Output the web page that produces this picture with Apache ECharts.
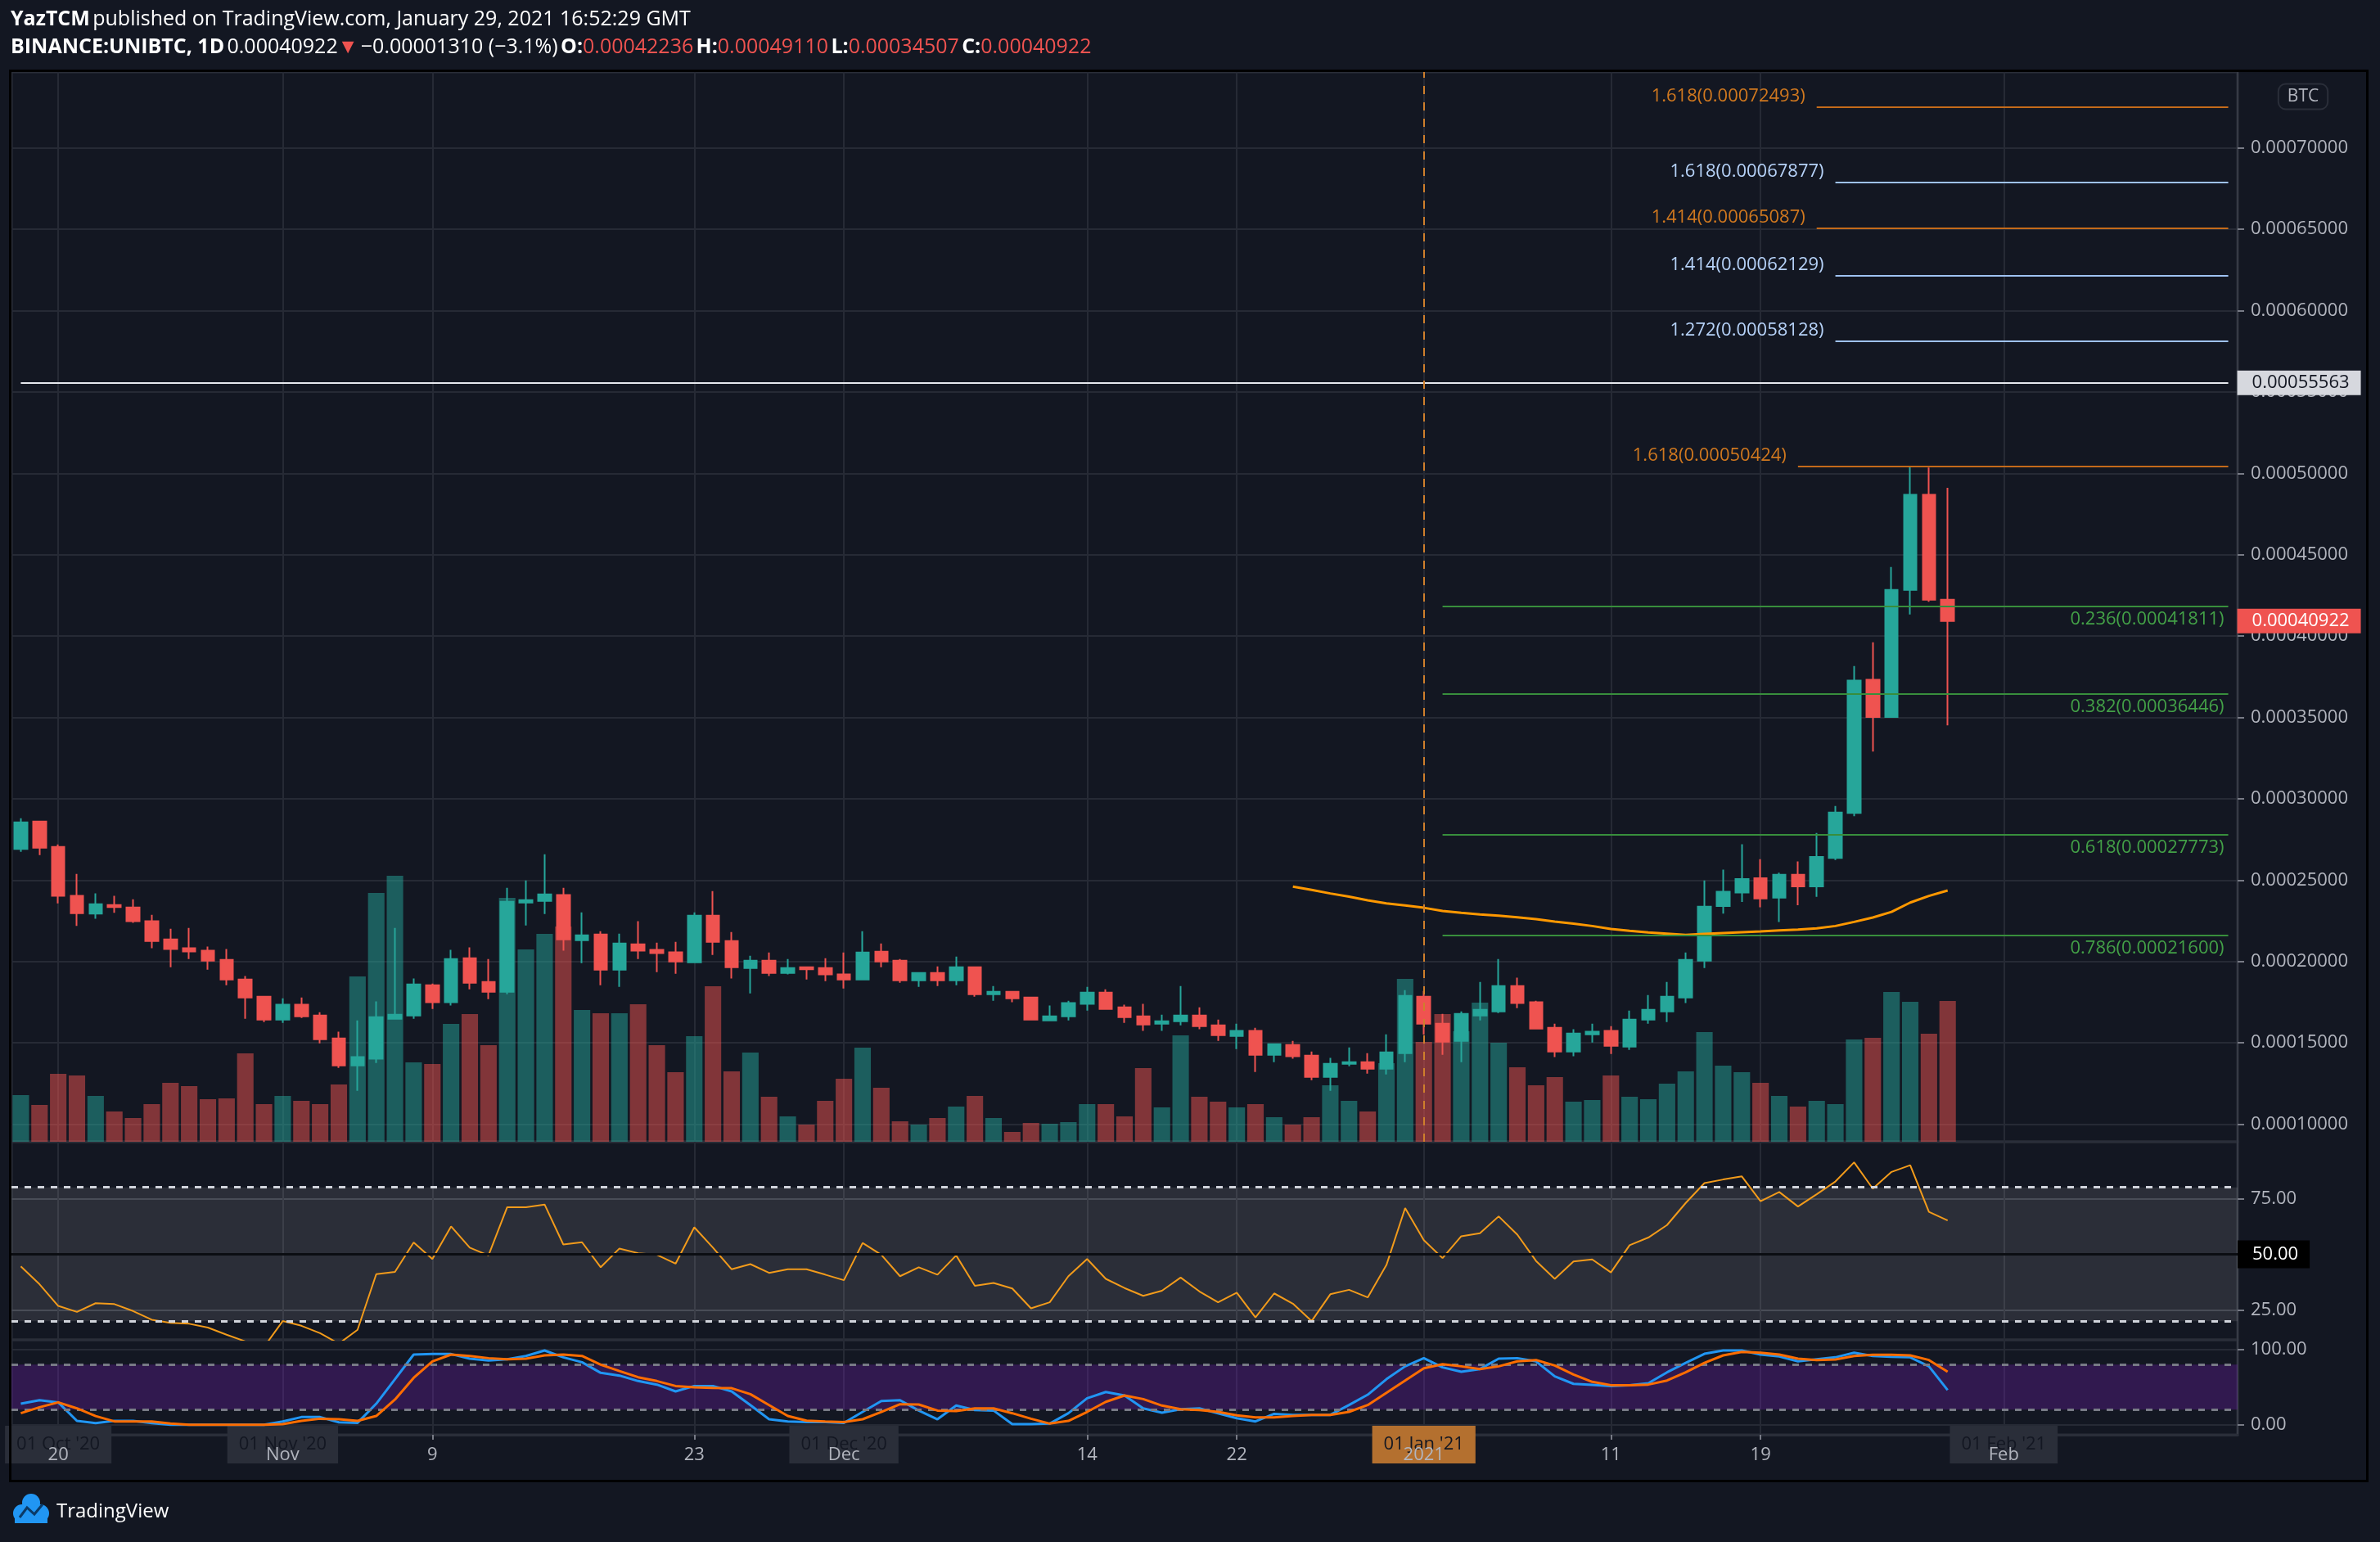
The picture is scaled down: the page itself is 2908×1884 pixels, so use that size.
<!DOCTYPE html>
<html><head><meta charset="utf-8">
<style>html,body{margin:0;padding:0;background:#131722;}#c{width:2908px;height:1884px;}</style>
<script src="https://cdn.jsdelivr.net/npm/echarts@6/dist/echarts.min.js"></script>
</head><body><div id="c"></div>
<script>
const FONT = '"Open Sans", "Noto Sans", sans-serif';

// ---- categories (daily, Oct 18 2020 .. Feb 13 2021) ----
const N_DAYS = 119;
const DATES = [];
for (let i = 0; i < N_DAYS; i++) {
  const d = new Date(Date.UTC(2020, 9, 18 + i));
  DATES.push(d.toISOString().slice(0, 10));
}

// ---- x tick labels ----
const TICK_DATES = ['2020-10-20','2020-11-01','2020-11-09','2020-11-23','2020-12-01','2020-12-14','2020-12-22','2021-01-01','2021-01-11','2021-01-19','2021-02-01'];
const TICK_LABELS = ['20','Nov','9','23','Dec','14','22','2021','11','19','Feb'];
const BOX_DATES = ['2020-10-20','2020-11-01','2020-12-01','2021-01-01','2021-02-01'];
const BOX_LABELS = ["01 Oct '20","01 Nov '20","01 Dec '20","01 Jan '21","01 Feb '21"];
const HIGHLIGHT_BOX = '2021-01-01';

// ---- y tick labels ----
const PRICE_TICKS = [0.0001,0.00015,0.0002,0.00025,0.0003,0.00035,0.0004,0.00045,0.0005,0.00055,0.0006,0.00065,0.0007];
const RSI_TICKS = [25,50,75];
const RSI_LABELS = [25,75];
const STOCH_TICKS = [0,100];

// ---- OHLC (Oct 18 2020 .. Jan 29 2021) ----
const OPEN = [0.0002691,0.000286,0.0002704,0.0002403,0.0002294,0.0002347,0.0002332,0.0002247,0.0002136,0.0002081,0.0002066,0.000201,0.0001889,0.0001784,
0.0001643,0.0001734,0.0001668,0.0001527,0.0001361,0.0001402,0.0001648,0.0001668,0.0001854,0.0001749,0.000202,0.0001874,0.0001814,0.0002362,0.0002372,0.0002408,0.0002131,0.0002166,0.000195,0.0002106,0.0002071,0.0002056,0.0001995,0.0002282,0.0002126,0.000196,0.0002005,0.000193,0.0001965,0.000196,
0.000192,0.0001889,0.000206,0.0002005,0.0001884,0.000193,0.0001884,0.0001965,0.0001799,0.0001814,0.0001779,0.0001638,0.0001663,0.0001739,0.0001809,0.0001718,0.0001663,0.0001618,0.0001633,0.0001668,0.0001608,0.0001542,0.0001573,0.0001427,0.0001487,0.0001422,0.0001291,0.0001371,0.0001381,0.0001341,0.0001437,
0.0001784,0.0001618,0.0001512,0.0001668,0.0001693,0.0001849,0.0001749,0.0001593,0.0001447,0.0001552,0.0001573,0.0001477,0.0001643,0.0001693,0.0001779,0.0002005,0.000234,0.0002423,0.0002512,0.0002392,0.0002533,0.0002461,0.0002636,0.0002913,0.0003731,0.0003503,0.0004283,0.0004868,0.00042236];
const CLOSE = [0.0002855,0.0002699,0.0002404,0.0002297,0.0002352,0.0002334,0.0002247,0.0002126,0.0002076,0.0002061,0.0002005,0.0001889,0.0001779,0.0001643,
0.0001734,0.0001663,0.0001522,0.0001361,0.0001412,0.0001658,0.0001673,0.0001859,0.0001749,0.0002015,0.0001869,0.0001814,0.0002367,0.0002377,0.0002412,0.0002136,0.0002161,0.000195,0.0002111,0.0002066,0.0002051,0.0002,0.0002282,0.0002121,0.0001965,0.0002005,0.000193,0.000196,0.0001952,0.000192,
0.0001889,0.0002055,0.0002,0.0001884,0.000193,0.0001884,0.0001965,0.0001799,0.0001814,0.0001774,0.0001643,0.0001663,0.0001744,0.0001809,0.0001708,0.0001658,0.0001613,0.0001633,0.0001668,0.0001603,0.0001547,0.0001573,0.0001427,0.0001492,0.0001417,0.0001291,0.0001371,0.0001381,0.0001341,0.0001442,0.0001789,
0.0001618,0.0001507,0.0001678,0.0001703,0.0001849,0.0001744,0.0001588,0.0001447,0.0001557,0.0001568,0.0001482,0.0001643,0.0001703,0.0001784,0.000201,0.0002337,0.0002428,0.0002507,0.0002387,0.0002533,0.0002461,0.0002643,0.0002915,0.0003726,0.0003503,0.0004283,0.0004868,0.00042236,0.00040922];
const HIGH = [0.000288,0.0002862,0.0002719,0.0002538,0.0002418,0.0002403,0.0002382,0.0002287,0.0002201,0.0002206,0.0002091,0.0002076,0.000191,0.0001784,
0.0001774,0.0001779,0.0001688,0.0001568,0.0001638,0.0001754,0.0002206,0.0001895,0.0001864,0.0002071,0.0002086,0.0002015,0.0002453,0.0002498,0.0002659,0.0002453,0.0002302,0.0002186,0.0002171,0.0002247,0.0002116,0.0002121,0.0002302,0.0002433,0.0002181,0.0002035,0.0002055,0.0002015,0.0001965,0.000202,
0.0002055,0.0002186,0.000211,0.0002015,0.0001935,0.000197,0.000203,0.000197,0.0001849,0.0001819,0.0001784,0.0001729,0.0001759,0.0001844,0.0001829,0.0001734,0.0001739,0.0001673,0.0001849,0.0001718,0.0001643,0.0001618,0.0001593,0.0001497,0.0001512,0.0001447,0.0001407,0.0001472,0.0001437,0.0001552,0.0001824,
0.0001819,0.0001678,0.0001693,0.0001874,0.0002015,0.00019,0.0001759,0.0001618,0.0001583,0.0001618,0.0001603,0.0001698,0.0001794,0.0001874,0.0002055,0.0002498,0.0002564,0.000272,0.0002628,0.0002546,0.0002615,0.000279,0.0002956,0.0003816,0.0003962,0.0004424,0.0005043,0.0005035,0.0004911];
const LOW = [0.0002674,0.0002654,0.0002357,0.0002218,0.0002263,0.0002299,0.0002238,0.0002082,0.0001965,0.0002015,0.000195,0.0001854,0.0001648,0.0001628,
0.0001623,0.0001653,0.0001497,0.0001346,0.0001205,0.0001376,0.0001643,0.0001648,0.0001708,0.0001729,0.0001829,0.0001769,0.0001799,0.0002221,0.0002292,0.0002066,0.000199,0.0001854,0.0001844,0.0002015,0.0001935,0.0001925,0.000199,0.000204,0.0001895,0.0001804,0.000191,0.000192,0.0001889,0.0001879,
0.0001834,0.0001889,0.0001965,0.0001869,0.0001844,0.0001849,0.0001854,0.0001784,0.0001759,0.0001749,0.0001638,0.0001638,0.0001638,0.0001698,0.0001708,0.0001623,0.0001573,0.0001573,0.0001608,0.0001583,0.0001512,0.0001462,0.0001321,0.0001381,0.0001402,0.0001271,0.0001205,0.0001356,0.0001311,0.0001306,0.0001381,
0.0001551,0.0001427,0.0001381,0.0001638,0.0001683,0.0001713,0.0001588,0.0001412,0.0001417,0.0001502,0.0001432,0.0001457,0.0001618,0.0001628,0.0001744,0.000196,0.0002294,0.0002366,0.0002333,0.0002243,0.0002346,0.0002397,0.0002623,0.0002892,0.000329,0.00035,0.0004132,0.0004211,0.00034507];
const VOLUME = [57,45,83,81,56,37,29,46,72,68,52,53,108,46,
56,50,46,70,202,304,325,97,95,144,156,118,298,235,254,263,161,157,157,168,118,85,129,190,86,109,55,31,21,50,
77,115,66,25,21,29,43,56,29,12,23,22,24,46,46,31,90,42,130,55,49,42,46,30,21,30,69,50,37,96,199,
122,156,135,170,121,91,69,79,49,51,81,55,52,71,86,134,93,85,72,56,43,50,46,125,127,183,171,132,172];

// ---- moving average (from Dec 25 2020) ----
const MA_START = '2020-12-25';
const MA = [0.000246,0.000244,0.0002418,0.0002398,0.0002376,0.0002357,0.0002344,
0.000233,0.000231,0.0002299,0.0002289,0.0002282,0.0002272,0.000226,0.0002245,0.0002232,0.0002218,0.00022,0.0002188,0.0002178,0.0002171,0.0002163,0.000217,0.0002175,0.000218,0.0002185,0.0002191,0.0002196,0.0002203,0.0002218,0.0002243,0.000227,0.0002305,0.0002362,0.0002403,0.0002436];

// ---- RSI ----
const RSI = [44.6,36.6,26.9,24.2,28.1,27.7,24.6,20.7,19.3,18.9,17.2,14.0,11.0,8.5,
20.1,18.0,14.7,10.0,16.2,41.1,42.1,55.3,47.9,62.5,53.0,49.5,71.1,71.1,72.3,54.4,55.4,44.2,52.6,50.5,49.8,45.8,62.1,53.0,43.3,45.6,41.7,43.3,43.3,40.9,
38.4,55.1,49.8,40.2,44.2,40.9,49.5,35.9,37.2,34.7,25.8,28.5,40.2,47.9,39.0,34.9,31.4,33.7,39.6,33.4,28.5,32.8,21.7,32.5,27.9,20.1,32.1,34.1,30.7,45.2,70.7,
56.3,48.3,58.1,59.4,67.0,58.8,47.0,39.0,46.8,47.7,41.9,54.1,57.5,63.1,73.0,81.9,83.5,84.9,73.8,77.9,71.4,76.9,82.6,91.2,79.4,86.9,89.9,69.0,65.2];

// ---- Stoch RSI ----
const STOCH_K = [28.0,32.7,29.8,5.1,2.2,5.1,5.1,2.2,0,0,0,0,0,0,
4.4,10.2,10.2,3.3,2.5,28.0,60.7,93.5,94.2,94.2,88.0,85.5,87.3,91.6,98.9,89.8,83.3,69.1,65.5,58.2,53.5,44.4,51.6,51.6,44.4,26.2,7.3,4.4,3.6,3.6,
2.5,17.1,31.6,32.7,18.9,7.3,25.5,19.6,18.9,0.7,0.7,1.5,15.3,35.3,43.6,38.9,21.8,16.0,20.7,21.8,15.3,8.7,4.4,14.5,13.1,13.1,13.1,26.2,40.0,60.7,77.8,
88.7,76.4,70.5,74.2,88.0,88.7,84.4,64.4,54.5,53.1,51.6,52.7,55.3,69.8,82.5,94.5,98.9,98.9,93.5,90.9,84.4,87.3,89.8,96.0,91.6,90.5,89.8,77.8,46.2];
const STOCH_D = [15.3,23.3,29.8,21.8,11.6,4.4,4.4,4.4,1.5,0,0,0,0,0,
0.7,5.1,8.0,7.3,5.1,11.6,33.5,62.5,84.4,93.5,91.6,88.7,87.3,88.0,92.4,93.5,91.6,80.0,71.6,63.3,58.2,51.6,49.8,49.1,48.7,40.7,26.2,11.6,5.5,4.4,
3.6,7.3,17.1,27.3,26.9,18.9,18.2,21.8,21.8,15.3,8.0,1.5,5.1,17.1,30.5,38.9,34.2,25.5,20.7,19.6,17.1,12.4,9.8,9.8,11.6,13.1,13.1,17.1,26.2,42.5,58.9,
75.3,80.7,77.8,74.2,77.8,84.4,86.2,78.9,66.9,57.1,52.7,52.7,53.5,58.9,69.8,82.5,92.4,97.1,96.0,93.5,88.0,86.2,86.9,91.6,93.1,93.1,92.4,86.2,70.5];

// ---- drawings ----
const FIB_EXT = [
  {ratio:'1.618', price:0.00072493, from:'2021-01-22', kind:'orange'},
  {ratio:'1.618', price:0.00067877, from:'2021-01-23', kind:'blue'},
  {ratio:'1.414', price:0.00065087, from:'2021-01-22', kind:'orange'},
  {ratio:'1.414', price:0.00062129, from:'2021-01-23', kind:'blue'},
  {ratio:'1.272', price:0.00058128, from:'2021-01-23', kind:'blue'},
  {ratio:'1.618', price:0.00050424, from:'2021-01-21', kind:'orange'}
];
const FIB_RET = [
  {ratio:'0.236', price:0.00041811},
  {ratio:'0.382', price:0.00036446},
  {ratio:'0.618', price:0.00027773},
  {ratio:'0.786', price:0.00021600}
];
const FIB_RET_FROM = '2021-01-02';
const RESISTANCE = 0.00055563;
const LAST_PRICE = 0.00040922;
const YEAR_LINE = '2021-01-01';

// ---- colours ----
const UP = '#26a69a', DOWN = '#ef5350';
const ORANGE_LINE = '#c46a1a', ORANGE_TXT = '#d0781f';
const BLUE_LINE = '#9fc2f2', BLUE_TXT = '#b6d2f8';
const GREEN_LINE = '#388e3c', GREEN_TXT = '#43a047';
const AXIS_TXT = '#b2b5be';
const GRID_C = '#262a35';

const tickSet = new Set(TICK_DATES);
const tickMap = {}; TICK_DATES.forEach((d, i) => tickMap[d] = TICK_LABELS[i]);
const boxMap = {}; BOX_DATES.forEach((d, i) => boxMap[d] = BOX_LABELS[i]);
const tickInterval = (i, v) => tickSet.has(v);

const candleData = OPEN.map((o, i) => [o, CLOSE[i], LOW[i], HIGH[i]]);
const volData = VOLUME.map((v, i) => ({value: v, itemStyle: {color: CLOSE[i] >= OPEN[i] ? 'rgba(38,166,154,0.5)' : 'rgba(239,83,80,0.5)'}}));
const maOffset = DATES.indexOf(MA_START);
const maData = DATES.map((d, i) => (i >= maOffset && i - maOffset < MA.length) ? MA[i - maOffset] : null);
const firstCat = DATES[0];
const lastCat = DATES[DATES.length - 1];
const lastDataCat = DATES[OPEN.length - 1];

const marks = [];
FIB_EXT.forEach(f => {
  const lc = f.kind === 'orange' ? ORANGE_LINE : BLUE_LINE;
  const tc = f.kind === 'orange' ? ORANGE_TXT : BLUE_TXT;
  marks.push([
    {coord: [f.from, f.price], lineStyle: {color: lc, width: 2, type: 'solid'},
     label: {show: true, position: 'start', distance: 14, formatter: f.ratio + '(' + f.price.toFixed(8) + ')', color: tc, fontSize: 22, fontFamily: FONT, verticalAlign: 'bottom', padding: [0, 0, 2, 0]}},
    {coord: [lastCat, f.price]}
  ]);
});
FIB_RET.forEach(f => {
  marks.push([
    {coord: [FIB_RET_FROM, f.price], lineStyle: {color: GREEN_LINE, width: 2, type: 'solid'},
     label: {show: true, position: 'insideEndBottom', distance: 5, formatter: f.ratio + '(' + f.price.toFixed(8) + ')', color: GREEN_TXT, fontSize: 22, fontFamily: FONT}},
    {coord: [lastCat, f.price]}
  ]);
});
// horizontal resistance across whole pane with axis tag
marks.push([
  {coord: [firstCat, RESISTANCE], lineStyle: {color: '#e6e8ee', width: 2, type: 'solid'},
   label: {show: true, position: 'end', distance: 11, formatter: RESISTANCE.toFixed(8), backgroundColor: '#d6d8de', color: '#131722', padding: [4, 14, 4, 18], fontSize: 22, fontFamily: FONT}},
  {coord: [lastCat, RESISTANCE]}
]);
// last price tag (short invisible segment to the right of the last candle)
marks.push([
  {coord: [lastDataCat, LAST_PRICE], lineStyle: {color: 'rgba(0,0,0,0)', width: 1, type: 'solid'},
   label: {show: true, position: 'end', distance: 11, formatter: LAST_PRICE.toFixed(8), backgroundColor: '#ef5350', color: '#ffffff', padding: [4, 14, 4, 18], fontSize: 22, fontFamily: FONT}},
  {coord: [lastCat, LAST_PRICE]}
]);
marks.push({xAxis: YEAR_LINE, lineStyle: {color: '#cf7f2c', width: 2, type: [10, 10]}, label: {show: false}});

function baseX(gridIndex) {
  return {
    type: 'category', gridIndex, data: DATES, boundaryGap: true,
    axisLine: {show: false}, axisTick: {show: false}, axisLabel: {show: false},
    splitLine: {show: true, alignWithLabel: true, interval: tickInterval, lineStyle: {color: GRID_C, width: 2}}
  };
}
const xAxes = [baseX(0), baseX(1), baseX(2)];
xAxes[2].position = 'bottom';
xAxes[2].axisLabel = {
  show: true, interval: (i, v) => v in boxMap, margin: 1,
  formatter: v => '{' + (v === HIGHLIGHT_BOX ? 'j' : 'b') + '|' + boxMap[v] + '}',
  rich: {
    b: {backgroundColor: '#2a2e39', color: '#131722', fontSize: 22, fontFamily: FONT, lineHeight: 22, padding: [12, 14]},
    j: {backgroundColor: '#b4702f', color: '#131722', fontSize: 22, fontFamily: FONT, lineHeight: 22, padding: [12, 14]}
  }
};
xAxes.push({
  type: 'category', gridIndex: 2, data: DATES, boundaryGap: true, position: 'bottom',
  axisLine: {show: true, lineStyle: {color: '#2a2e39', width: 3}},
  axisTick: {show: true, alignWithLabel: true, interval: tickInterval, length: 6, lineStyle: {color: '#787b86', width: 2}},
  axisLabel: {show: true, interval: tickInterval, formatter: v => tickMap[v], color: AXIS_TXT, fontSize: 22, fontFamily: FONT, margin: 14},
  splitLine: {show: false}
});

function rightAxis(gridIndex, min, max, ticks, labels, fmt) {
  return {
    type: 'value', gridIndex, position: 'right', min, max, scale: true,
    axisLine: {show: true, lineStyle: {color: '#363a45', width: 2}},
    axisTick: {show: true, customValues: ticks, length: 8, lineStyle: {color: '#787b86', width: 2}},
    axisLabel: {show: true, customValues: labels, formatter: fmt, color: AXIS_TXT, fontSize: 22, fontFamily: FONT, margin: 16},
    splitLine: {show: true, lineStyle: {color: GRID_C, width: 2}}
  };
}
const yAxes = [
  rightAxis(0, 0.0000892, 0.0007466, PRICE_TICKS, PRICE_TICKS, v => v.toFixed(8)),
  {type: 'value', gridIndex: 0, min: 0, max: Math.max(...VOLUME) * 4.02, show: false, splitLine: {show: false}},
  rightAxis(1, 11.7, 100.4, RSI_TICKS, RSI_LABELS, v => v.toFixed(2)),
  rightAxis(2, -13.4, 113.1, STOCH_TICKS, STOCH_TICKS, v => v.toFixed(2))
];
yAxes[2].splitLine.lineStyle.color = '#353945';

const gridBase = {left: 14, right: 174, show: true, borderColor: '#2a2e39', borderWidth: 3, backgroundColor: 'transparent'};
const option = {
  backgroundColor: '#131722',
  animation: false,
  textStyle: {fontFamily: FONT},
  grid: [
    Object.assign({top: 88, height: 1307}, gridBase),
    Object.assign({top: 1395, height: 242}, gridBase),
    Object.assign({top: 1637, height: 116}, gridBase)
  ],
  xAxis: xAxes,
  yAxis: yAxes,
  series: [
    {type: 'bar', name: 'Volume', xAxisIndex: 0, yAxisIndex: 1, data: volData, barWidth: '88%', z: 1, silent: true},
    {type: 'candlestick', name: 'UNIBTC', xAxisIndex: 0, yAxisIndex: 0, data: candleData, barWidth: '70%', z: 3,
     itemStyle: {color: UP, color0: DOWN, borderColor: UP, borderColor0: DOWN, borderWidth: 2},
     markLine: {silent: true, symbol: ['none', 'none'], animation: false, z: 6, data: marks}},
    {type: 'line', name: 'MA', xAxisIndex: 0, yAxisIndex: 0, data: maData, symbol: 'none', z: 4,
     lineStyle: {color: '#ff9800', width: 3}, itemStyle: {color: '#ff9800'}},
    {type: 'line', name: 'RSI', xAxisIndex: 1, yAxisIndex: 2, data: RSI, symbol: 'none', z: 4,
     lineStyle: {color: '#f29b1b', width: 2}, itemStyle: {color: '#f29b1b'},
     markArea: {silent: true, itemStyle: {color: 'rgba(255,255,255,0.10)'}, data: [[{yAxis: 20}, {yAxis: 80}]]},
     markLine: {silent: true, symbol: ['none', 'none'], animation: false, data: [
       {yAxis: 80, lineStyle: {color: '#d1d4dc', width: 3, type: [8, 8]}, label: {show: false}},
       {yAxis: 20, lineStyle: {color: '#d1d4dc', width: 3, type: [8, 8]}, label: {show: false}},
       {yAxis: 50, lineStyle: {color: '#0b0d12', width: 3, type: 'solid'},
        label: {show: true, position: 'end', distance: 0, formatter: '50.00', backgroundColor: '#000000', color: '#ffffff', padding: [6, 14, 6, 18], fontSize: 22, fontFamily: FONT}}
     ]}},
    {type: 'line', name: '%K', xAxisIndex: 2, yAxisIndex: 3, data: STOCH_K, symbol: 'none', z: 4,
     lineStyle: {color: '#2196f3', width: 3}, itemStyle: {color: '#2196f3'},
     markArea: {silent: true, itemStyle: {color: 'rgba(120,30,185,0.30)'}, data: [[{yAxis: 20}, {yAxis: 80}]]},
     markLine: {silent: true, symbol: ['none', 'none'], animation: false, data: [
       {yAxis: 80, lineStyle: {color: '#787b86', width: 3, type: [8, 8]}, label: {show: false}},
       {yAxis: 20, lineStyle: {color: '#787b86', width: 3, type: [8, 8]}, label: {show: false}}
     ]}},
    {type: 'line', name: '%D', xAxisIndex: 2, yAxisIndex: 3, data: STOCH_D, symbol: 'none', z: 5,
     lineStyle: {color: '#ff6d00', width: 3}, itemStyle: {color: '#ff6d00'}}
  ],
  graphic: [
    {type: 'text', x: 13, y: 24, z: 10, style: {
      text: '{b|YazTCM} {n|published on TradingView.com, January 29, 2021 16:52:29 GMT}',
      verticalAlign: 'middle',
      rich: {b: {fontWeight: 'bold', fontSize: 25, fontFamily: FONT, fill: '#ffffff'}, n: {fontSize: 25, fontFamily: FONT, fill: '#ffffff'}}}},
    {type: 'text', x: 13, y: 58, z: 10, style: {
      text: '{b|BINANCE:UNIBTC, 1D} {n|0.00040922}{r|▼} {n|−0.00001310 (−3.1%)} {b|O:}{r|0.00042236} {b|H:}{r|0.00049110} {b|L:}{r|0.00034507} {b|C:}{r|0.00040922}',
      verticalAlign: 'middle',
      rich: {b: {fontWeight: 'bold', fontSize: 25, fontFamily: FONT, fill: '#ffffff'}, n: {fontSize: 25, fontFamily: FONT, fill: '#ffffff'}, r: {fontSize: 25, fontFamily: FONT, fill: '#ef5350'}}}},
    {type: 'text', x: 2814, y: 118, z: 10, style: {
      text: 'BTC', align: 'center', verticalAlign: 'middle', fontSize: 21, fontFamily: FONT, fill: AXIS_TXT,
      backgroundColor: '#131722', borderColor: '#2a2e39', borderWidth: 2, borderRadius: 8, padding: [4, 10]}},
    {type: 'rect', z: 20, silent: true, shape: {x: 12.5, y: 86.5, width: 2880, height: 1723},
      style: {fill: 'none', stroke: '#000000', lineWidth: 3}},
    {type: 'group', z: 10, children: [
      {type: 'circle', shape: {cx: 38, cy: 1836, r: 11}, style: {fill: '#2196f3'}},
      {type: 'circle', shape: {cx: 27, cy: 1849, r: 11}, style: {fill: '#2196f3'}},
      {type: 'circle', shape: {cx: 49, cy: 1849, r: 11}, style: {fill: '#2196f3'}},
      {type: 'rect', shape: {x: 18, y: 1846, width: 40, height: 15}, style: {fill: '#2196f3'}},
      {type: 'polyline', shape: {points: [[24, 1854], [33, 1842], [42, 1850], [52, 1838]]}, style: {stroke: '#0b3a66', lineWidth: 3, fill: 'none'}}
    ]},
    {type: 'text', x: 69, y: 1847, z: 10, style: {text: 'TradingView', verticalAlign: 'middle', fontSize: 24, fontFamily: FONT, fill: '#ffffff'}}
  ]
};

const chart = echarts.init(document.getElementById('c'), null, {renderer: 'canvas', devicePixelRatio: 1, width: 2908, height: 1884});
chart.setOption(option);
</script></body></html>
